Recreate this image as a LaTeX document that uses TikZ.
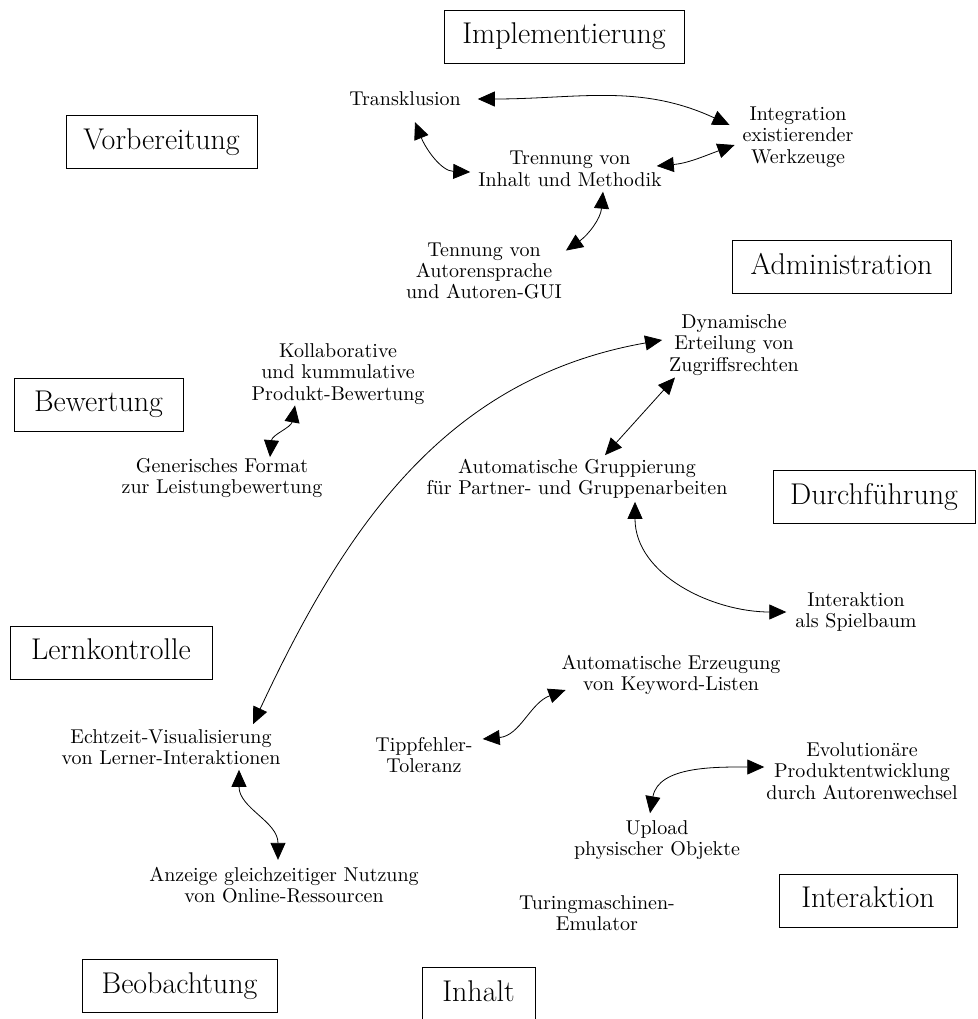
\documentclass[tikz,border=0pt]{standalone}
\usepackage{tikz}
\usetikzlibrary{arrows.meta, positioning}

\begin{document}
\begin{tikzpicture}[
      x=0.5pt, y=-0.5pt,
      phase_block/.style={rectangle, draw, thin, font=\fontsize{15}{18}\selectfont, inner xsep=6pt, inner ysep=0pt, text height=10pt, text depth=3pt, minimum height=26.5pt},
      idea/.style={align=center, font=\fontsize{10}{10.7}\selectfont},
      line/.style={draw, {Triangle[length=8.5pt, width=7.5pt]}-{Triangle[length=8.5pt, width=7.5pt]}, thin}
  ]
  \useasboundingbox (0,0) rectangle (978,1019);

  % phases
  \node [phase_block, minimum width=120pt] (implem) at (564,36.5) {Implementierung};
  \node [phase_block, minimum width=95.5pt] (vorb) at (161.5,142) {Vorbereitung};
  \node [phase_block, minimum width=109.5pt] (admin) at (841.5,267) {Administration};
  \node [phase_block, minimum width=84.5pt] (bewert) at (98.5,404.5) {Bewertung};
  \node [phase_block, minimum width=101pt] (durch) at (874,497) {Durchführung};
  \node [phase_block, minimum width=101pt] (lernk) at (111,652.5) {Lernkontrolle};
  \node [phase_block, minimum width=89pt] (interakt) at (868,900.5) {Interaktion};
  \node [phase_block, minimum width=97.5pt] (beob) at (179.5,986) {Beobachtung};
  \node [phase_block, minimum width=56.5pt] (inhalt) at (478.5,994) {Inhalt};

  % ideas
  \node [idea] (transkl) at (405,99) {Transklusion};
  \node [idea] (integ) at (798,137) {Integration\\existierender\\Werkzeuge};
  \node [idea] (trenn) at (570,169) {Trennung von\\Inhalt und Methodik};
  \node [idea] (tennung) at (484,271) {Tennung von\\Autorensprache\\und Autoren-GUI};
  \node [idea] (dyn) at (734,345) {Dynamische\\Erteilung von\\Zugriffsrechten};
  \node [idea] (koll) at (338,374) {Kollaborative\\und kummulative\\Produkt-Bewertung};
  \node [idea] (grupp) at (577,479) {Automatische Gruppierung\\für Partner- und Gruppenarbeiten};
  \node [idea] (generisch) at (222,478) {Generisches Format\\zur Leistungbewertung};
  \node [idea] (spielbaum) at (856,612) {Interaktion\\als Spielbaum};
  \node [idea] (keyword) at (671,675) {Automatische Erzeugung\\von Keyword-Listen};
  \node [idea] (echtzeit) at (171,747) {Echtzeit-Visualisierung\\von Lerner-Interaktionen};
  \node [idea] (tipp) at (424,755) {Tippfehler-\\Toleranz};
  \node [idea] (evol) at (862,771) {Evolutionäre\\Produktentwicklung\\durch Autorenwechsel};
  \node [idea] (upload) at (657,840) {Upload\\physischer Objekte};
  \node [idea] (anzeige) at (284,885) {Anzeige gleichzeitiger Nutzung\\von Online-Ressourcen};
  \node [idea] (turing) at (597,913) {Turingmaschinen-\\Emulator};

  % connections
  \path [line] ([shift={(10,0)}]transkl.east) to[out=0, in=155] ([shift={(-6,-12)}]integ.west);
  \path [line] ([shift={(10,9)}]transkl.south) to[out=-68, in=178] ([shift={(-1,3)}]trenn.west);
  \path [line] ([shift={(-12,-3)}]trenn.east) to[out=5, in=200] ([shift={(-1,8)}]integ.west);
  \path [line] ([shift={(33,-2)}]trenn.south) to[out=-95, in=35] ([shift={(-3,15)}]tennung.north east);
  \path [line] ([shift={(0,-5)}]dyn.west) to[out=190, in=65] ([shift={(82,2)}]echtzeit.north);
  \path [line] ([shift={(-59,-5)}]dyn.south) -- ([shift={(28,3)}]grupp.north);
  \path [line] ([shift={(58,-4)}]grupp.south) to[out=-90, in=180] ([shift={(-2,0)}]spielbaum.west);
  \path [line] ([shift={(-43,-6)}]koll.south) to[out=-100, in=85] ([shift={(48,6)}]generisch.north);
  \path [line] ([shift={(3,-16)}]tipp.east) to[out=5, in=200] ([shift={(11,15)}]keyword.west);
  \path [line] ([shift={(-7,0)}]upload.north) to[out=80, in=180] ([shift={(5,-4)}]evol.west);
  \path [line] ([shift={(68,-2)}]echtzeit.south) to[out=-90, in=90] ([shift={(-6,0)}]anzeige.north);

\end{tikzpicture}
\end{document}
